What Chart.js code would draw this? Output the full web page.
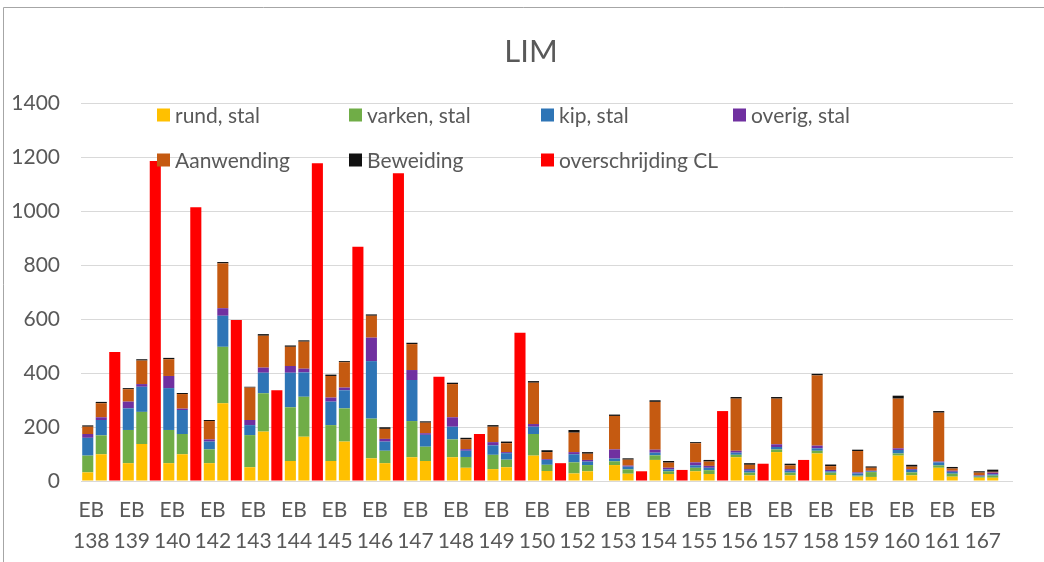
<!DOCTYPE html>
<html>
<head>
<meta charset="utf-8">
<script src="https://cdn.jsdelivr.net/npm/chart.js@4.4.1/dist/chart.umd.min.js"></script>
<style>
  html, body { margin: 0; padding: 0; background: #fff; }
  #wrap { position: relative; width: 1044px; height: 562px; }
</style>
</head>
<body>
<div id="wrap"><canvas id="chart" width="1044" height="562"></canvas></div>
<script>
// EB codes on the x axis
const categories = ['138', '139', '140', '142', '143', '144', '145', '146', '147', '148', '149', '150',
  '152', '153', '154', '155', '156', '157', '158', '159', '160', '161', '167']

// first stacked bar of each group
const rundA   = [32, 66, 66, 66, 51, 74, 74, 84, 88, 88, 44, 94, 28, 59, 78, 36, 88, 107, 102, 16, 94, 49, 12]
const varkenA = [62, 123, 123, 51, 119, 199, 133, 147, 134, 66, 53, 80, 41, 14, 17, 13, 9, 10, 10, 4, 8, 9, 4]
const kipA    = [66, 80, 155, 29, 37, 128, 87, 213, 152, 47, 35, 27, 30, 10, 10, 9, 8, 9, 9, 8, 13, 11, 3]
const overigA = [14, 25, 45, 8, 19, 25, 15, 87, 37, 35, 12, 10, 8, 34, 11, 11, 7, 10, 10, 4, 6, 3, 2]
const aanwA   = [27, 46, 62, 68, 120, 71, 80, 81, 96, 123, 57, 153, 72, 124, 177, 71, 193, 169, 260, 79, 184, 181, 10]
const bewA    = [5, 4, 5, 4, 3, 5, 5, 5, 5, 5, 6, 6, 10, 5, 6, 4, 6, 6, 6, 5, 11, 6, 5]

// second stacked bar of each group
const rundB   = [99, 137, 99, 288, 183, 164, 146, 66, 74, 49, 51, 37, 36, 27, 26, 26, 21, 21, 22, 15, 21, 16, 12]
const varkenB = [70, 119, 75, 209, 142, 148, 123, 46, 53, 40, 28, 23, 23, 16, 10, 14, 10, 10, 9, 18, 11, 11, 8]
const kipB    = [57, 93, 89, 115, 76, 90, 67, 34, 44, 23, 24, 18, 13, 10, 7, 9, 7, 7, 5, 3, 9, 7, 5]
const overigB = [10, 10, 5, 28, 19, 14, 10, 10, 6, 6, 4, 3, 6, 4, 6, 7, 6, 6, 5, 2, 3, 4, 6]
const aanwB   = [52, 87, 54, 166, 118, 100, 94, 37, 39, 36, 33, 26, 23, 22, 19, 16, 16, 14, 14, 11, 9, 8, 3]
const bewB    = [5, 5, 4, 5, 6, 5, 4, 6, 5, 6, 6, 7, 6, 5, 6, 6, 6, 6, 6, 5, 7, 6, 8]

// red bar
const overschrijding = [478, 1185, 1014, 596, 336, 1177, 868, 1140, 386, 174, 549, 66, 0, 36, 41, 259, 64, 78, 0, 0, 0, 0, 0]

const seriesNames = ['rund, stal', 'varken, stal', 'kip, stal', 'overig, stal', 'Aanwending', 'Beweiding', 'overschrijding CL']
const seriesColors = ['#FFC000', '#70AD47', '#2E75B6', '#7030A0', '#C55A11', '#111111', '#FF0000']

const FONT = 'Lato, "Open Sans", sans-serif'
const TEXT = '#595959'

const stackA = [rundA, varkenA, kipA, overigA, aanwA, bewA]
const stackB = [rundB, varkenB, kipB, overigB, aanwB, bewB]

const datasets = []
stackA.forEach((data, i) => {
  datasets.push({ label: seriesNames[i], data: data, backgroundColor: seriesColors[i], stack: 'a' })
})
stackB.forEach((data, i) => {
  datasets.push({ label: seriesNames[i], data: data, backgroundColor: seriesColors[i], stack: 'b' })
})
datasets.push({ label: seriesNames[6], data: overschrijding, backgroundColor: seriesColors[6], stack: 'c' })

datasets.forEach(ds => {
  ds.categoryPercentage = 1.0
  ds.barPercentage = 0.82
  ds.borderWidth = 0
})

// frame, title and the two-row legend
const decor = {
  id: 'decor',
  beforeDraw(chart) {
    const ctx = chart.ctx
    ctx.save()
    ctx.fillStyle = '#fff'
    ctx.fillRect(0, 0, chart.width, chart.height)
    ctx.strokeStyle = '#a6a6a6'
    ctx.lineWidth = 1
    ctx.beginPath()
    ctx.moveTo(3.5, chart.height)
    ctx.lineTo(3.5, 7.5)
    ctx.lineTo(chart.width, 7.5)
    ctx.stroke()
    ctx.restore()
  },
  afterDraw(chart) {
    const ctx = chart.ctx
    ctx.save()
    ctx.fillStyle = TEXT
    ctx.textAlign = 'center'
    ctx.textBaseline = 'middle'
    ctx.font = '31px ' + FONT
    ctx.fillText('LIM', 531, 52)

    ctx.font = '21px ' + FONT
    ctx.textAlign = 'left'
    seriesNames.forEach((name, i) => {
      const col = i % 4
      const row = Math.floor(i / 4)
      const x = 157 + col * 192
      const y = 115 + row * 45
      ctx.fillStyle = seriesColors[i]
      ctx.fillRect(x, y - 6.5, 13, 13)
      ctx.fillStyle = TEXT
      ctx.fillText(name, x + 18, y + 1)
    })
    ctx.restore()
  }
}

new Chart(document.getElementById('chart'), {
  type: 'bar',
  data: {
    labels: categories.map(c => ['EB', c]),
    datasets: datasets
  },
  options: {
    responsive: false,
    animation: false,
    devicePixelRatio: 1,
    layout: { padding: { top: 103, right: 31, left: 0, bottom: 0 } },
    plugins: {
      legend: { display: false },
      title: { display: false },
      tooltip: { enabled: false }
    },
    scales: {
      x: {
        stacked: true,
        grid: { display: false, drawTicks: false },
        border: { display: false },
        ticks: {
          color: TEXT,
          font: { family: FONT, size: 21, lineHeight: 1.48 },
          padding: 14,
          labelOffset: -10,
          maxRotation: 0,
          autoSkip: false
        },
        afterFit: s => { s.height = 81 }
      },
      y: {
        stacked: true,
        min: 0,
        max: 1400,
        ticks: {
          stepSize: 200,
          color: TEXT,
          font: { family: FONT, size: 21 },
          padding: 21,
          callback: v => String(v)
        },
        grid: { color: '#d9d9d9', drawTicks: false },
        border: { display: false },
        afterFit: s => { s.width = 81 }
      }
    }
  },
  plugins: [decor]
})
</script>
</body>
</html>
